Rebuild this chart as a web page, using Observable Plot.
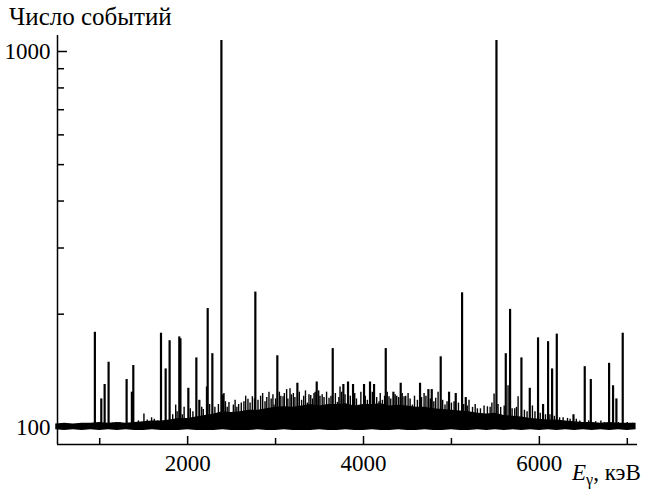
<!DOCTYPE html>
<html><head><meta charset="utf-8">
<script src="https://cdn.jsdelivr.net/npm/d3@7"></script>
<script src="https://cdn.jsdelivr.net/npm/@observablehq/plot@0.6"></script>
<style>
html,body{margin:0;padding:0;background:#fff}
#wrap{position:relative;width:645px;height:501px}
#wrap svg{display:block}
.lbl{position:absolute;font-family:'Liberation Serif','Times New Roman',serif;color:#000;white-space:nowrap;line-height:1}
#ytitle{left:9px;top:4px;font-size:25px}
#xtitle{left:572px;top:461px;font-size:23px}
#xtitle i{font-style:italic}
#xtitle sub{font-size:16px;vertical-align:-5px;line-height:0}
</style>
</head><body><div id="wrap"><div id="chart"></div>
<div class="lbl" id="ytitle"></div><div class="lbl" id="xtitle"></div></div>
<script>
// Energy grid of the dense background band (keV) and its lower / upper edges (counts)
const bandE = [500,600,700,800,900,1000,1100,1200,1300,1400,1500,1600,1700,1800,1900,2000,2100,2200,2300,2400,2500,2600,2700,2800,2900,3000,3100,3200,3300,3400,3500,3600,3700,3800,3900,4000,4100,4200,4300,4400,4500,4600,4700,4800,4900,5000,5100,5200,5300,5400,5500,5600,5700,5800,5900,6000,6100,6200,6300,6400,6500,6600,6700,6800,6900,7000,7100];
const bandLo = [98.5,98,98.5,98,98.5,98,98.5,98,98.5,98,98,98.5,98,98,98,98.5,98,98,98,98.5,98,98,98,98.5,98,98,98.5,98,98,98,98.5,98,98,98.5,98,98,98.5,98,98,98.5,98,98,98.5,98,98,98.5,98,98,98.5,98,98.5,98,98.5,98,98.5,98,98.5,98,98.5,98,98.5,98,98.5,98,98.5,98,98.5];
const bandHi = [102,102.5,102,102.5,102.5,103,102.5,103,102.5,103,103.5,104,104,104.5,105.5,105.5,106.5,107.5,108.5,110,109.5,110,111,111,112,113,113.5,113,114,115,114,115,115,115.5,114,115,115,115.5,114,114.5,114,113,113,112,111.5,111,110.5,110,109,108.5,109,107.5,107,106.5,105.5,105,104.5,104.5,104,103.5,103,103,102.5,103,102.5,102.5,102.5];

// Strong gamma lines: energy (keV) and peak counts
const peakE = [945,1018,1056,1101,1306,1366,1382,1697,1750,1795,1905,1918,2008,2099,2133,2228,2281,2384,2402,2770,3020,3248,3468,3650,3771,3824,3881,4006,4074,4120,4253,4340,4423,4643,4738,4776,4878,4973,5049,5121,5163,5512,5618,5667,5796,5891,5985,6042,6099,6145,6198,6388,6516,6585,6793,6838,6876,6948];
const peakV = [179,119,130,149,134,124,146,178,143,170,174,172,127,153,118,207,157,1070,122,229,155,131,132,162,130,132,130,130,132,130,162,124,131,131,126,126,154,124,123,228,120,1070,157,206,153,127,173,115,169,143,177,108,145,134,148,129,119,178];

// Weaker fluctuations sticking out of the background band
const spikeE = [1150,1230,1440,1503,1540,1590,1620,1660,1830,1864,1880,1940,1960,2030,2060,2160,2178,2215,2250,2310,2350,2413,2430,2450,2470,2520,2540,2560,2580,2610,2640,2660,2686,2710,2736,2760,2800,2830,2853,2880,2900,2925,2950,2970,2982,3000,3043,3060,3085,3100,3126,3140,3164,3180,3202,3220,3270,3296,3320,3340,3362,3380,3400,3420,3437,3450,3490,3505,3530,3551,3580,3608,3630,3680,3703,3720,3733,3750,3790,3850,3900,3920,3949,3970,4020,4044,4100,4150,4177,4190,4215,4240,4270,4290,4310,4360,4378,4400,4440,4461,4480,4507,4530,4556,4580,4613,4660,4689,4710,4760,4800,4821,4848,4900,4927,4950,5000,5030,5080,5140,5180,5200,5240,5270,5295,5330,5371,5409,5440,5460,5485,5530,5560,5600,5644,5690,5720,5740,5758,5830,5860,5921,5950,6010,6070,6120,6170,6230,6270,6320,6350,6420,6460,6560,6640,6700,6740,6900,7000,7060];
const spikeV = [102.5,103,104,108.5,104.5,106,105,104,108,114.6,110,108,113,112,110,113,111.6,128,115,113,115,123,117,113,116.5,114.6,118,113,115,116,117,121,118.7,116,120.6,119,118,121,123,117,120,124,119,122,114.6,119,124,121,120.6,123,126,119,126.6,122,123,120,124,118,121,125,116,122,121.5,119,123,124,125,121,122,120,124,119.5,121,123,116.5,120,128,124,122,121,123,119,111,124,121,118,124,120,117,123,118,121,124,120.6,119,122,121,120,123,120.6,121,123,119,114.6,121,118,120,123,121,119,117,119.5,124,118,114.6,117,116,117,116,115,114,118,113,115,112,112,114,113.4,113,116,122.6,115,113,114,129,112,112,113,120.6,111,110,114,110,109,108,108,107,106,106,105.6,105,105,104,104,103.5,104,103,103,103,102.5];

const yTicksMajor = [100, 1000];
const yTicksMinor = [200, 300, 400, 500, 600, 700, 800, 900];
const xTicksMajor = [2000, 4000, 6000];
const xTicksMinor = [1000, 3000, 5000, 7000];
const yTitle = "Число событий";
const xTitleE = "E", xTitleSub = "γ", xTitleUnit = ", кэВ";

const band = bandE.map((e, i) => ({e, lo: bandLo[i], hi: bandHi[i]}));
const peaks = peakE.map((e, i) => ({e, v: peakV[i]}));
const spikes = spikeE.map((e, i) => ({e, v: spikeV[i]}));

const xDomain = [520, 7116];
const yDomain = [90, 1103];
const serif = "'Liberation Serif', 'Times New Roman', serif";

const chart = Plot.plot({
  width: 645,
  height: 501,
  marginLeft: 57,
  marginRight: 8,
  marginTop: 35,
  marginBottom: 57,
  x: {domain: xDomain, label: null},
  y: {type: "log", domain: yDomain, label: null, clamp: true},
  marks: [
    Plot.areaY(band, {x: "e", y1: "lo", y2: "hi", fill: "black"}),
    Plot.ruleX(spikes, {x: "e", y1: 100, y2: "v", stroke: "black", strokeWidth: 1.4}),
    Plot.ruleX(peaks, {x: "e", y1: 100, y2: "v", stroke: "black", strokeWidth: 2.2}),
    Plot.ruleX([xDomain[0]], {stroke: "black", strokeWidth: 1.5}),
    Plot.ruleY([yDomain[0]], {stroke: "black", strokeWidth: 1.5}),
    Plot.axisY({ticks: yTicksMinor, tickSize: -7, tickFormat: () => "", label: null, strokeWidth: 1.5}),
    Plot.axisY({ticks: yTicksMajor, tickSize: -10, tickPadding: 17, tickFormat: d => String(d), label: null, strokeWidth: 1.5, fontSize: 23, fontFamily: serif, fill: "black"}),
    Plot.axisX({ticks: xTicksMinor, tickSize: -6, tickFormat: () => "", label: null, strokeWidth: 1.5}),
    Plot.axisX({ticks: xTicksMajor, tickSize: -8, tickPadding: 18, tickFormat: d => String(d), label: null, strokeWidth: 1.5, fontSize: 23, fontFamily: serif, fill: "black"})
  ]
});
document.getElementById("chart").appendChild(chart);
chart.setAttribute("font-family", serif);
chart.querySelectorAll("g[aria-label$='axis tick label'], g[aria-label$='tick label']").forEach(g => g.setAttribute("font-family", serif));
chart.querySelectorAll("text").forEach(t => t.style.fontFamily = serif);

document.getElementById("ytitle").textContent = yTitle;
const xt = document.getElementById("xtitle");
const iE = document.createElement("i"); iE.textContent = xTitleE;
const sG = document.createElement("sub"); sG.textContent = xTitleSub;
xt.append(iE, sG, document.createTextNode(xTitleUnit));
</script>
</body></html>
